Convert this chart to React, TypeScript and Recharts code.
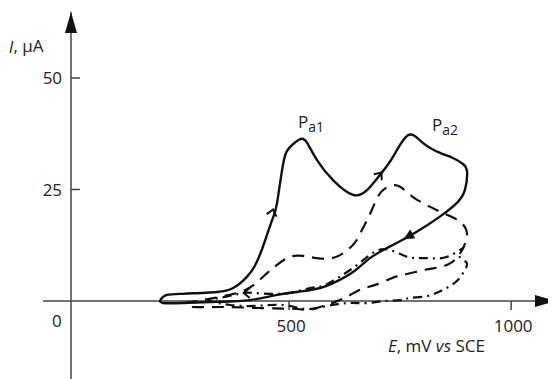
import React from "react";
import { LineChart, Line, XAxis, YAxis, ReferenceLine, ReferenceDot } from "recharts";

// potential E (mV vs SCE) and current I (µA)
const solidE = [210, 225, 261, 300, 338, 374, 405, 423, 441, 462, 473, 487, 502, 525, 541, 563, 599, 644, 676, 705, 734, 768, 802, 840, 870, 893, 901, 896, 878, 845, 811, 766, 721, 682, 644, 599, 570, 532, 473, 412, 338, 261, 216, 210];
const solidI = [0.2, 1.35, 1.6, 1.8, 2.0, 2.9, 5.4, 7.9, 12.1, 18.2, 22.0, 30.9, 34.5, 36.3, 35.4, 31.6, 27.1, 23.8, 24.9, 28.3, 32.3, 37.2, 35.4, 33.2, 32.0, 30.6, 28.7, 24.9, 22.0, 19.3, 17.0, 14.3, 11.9, 9.6, 6.5, 4.0, 2.9, 2.2, 1.35, 0.2, -0.2, -0.45, -0.45, 0.2];

const dashE = [266, 333, 390, 423, 451, 473, 502, 532, 563, 597, 626, 649, 664, 678, 691, 707, 728, 750, 779, 818, 851, 883, 899, 899, 887, 867, 840, 806, 768, 739, 694, 664, 633, 604, 554, 518, 439, 349, 282, 266];
const dashI = [-0.45, 0.7, 2.0, 3.8, 6.3, 8.1, 9.9, 10.1, 9.6, 9.6, 11.0, 13.2, 15.9, 18.6, 21.5, 24.4, 25.8, 25.6, 23.3, 21.1, 19.5, 17.9, 15.9, 13.7, 11.0, 8.7, 7.6, 7.0, 6.1, 5.4, 3.6, 2.7, 1.1, -0.2, -1.8, -1.8, -1.6, -1.35, -1.35, -0.45];

const dotE = [311, 367, 428, 487, 536, 574, 610, 642, 678, 716, 750, 773, 811, 847, 878, 896, 899, 883, 892, 856, 818, 788, 761, 728, 701, 676, 644, 610, 577, 547, 502, 457, 419, 396, 356, 311];
const dotI = [0.2, -0.9, -1.1, -0.9, -1.8, -1.35, -0.7, -0.45, -0.45, 0, 0.2, 0.7, 1.1, 2.5, 4.5, 7.0, 8.7, 10.3, 11.9, 9.9, 9.6, 9.6, 10.1, 11.4, 11.4, 9.9, 7.4, 5.2, 3.4, 2.9, 1.8, 1.6, 1.8, 1.8, 0.9, 0.2];

const yTicks = [25, 50];
const xTicks = [500, 1000];

const zip = (e: number[], i: number[]) => e.map((v, k) => ({ e: v, i: i[k] }));
const solid = zip(solidE, solidI);
const dashed = zip(dashE, dashI);
const dashDot = zip(dotE, dotI);

const X_MIN = -54;
const X_MAX = 1092;
const Y_MIN = -17.5;
const Y_MAX = 64.8;
const AXIS_X = 9;

const font = "'Open Sans', 'Liberation Sans', sans-serif";
const ink = "#222";

const textShape = (content: React.ReactNode, anchor: string, dx = 0, dy = 0) => (p: any) => (
  <text
    x={p.cx + dx}
    y={p.cy + dy}
    textAnchor={anchor as any}
    dominantBaseline="central"
    fontFamily={font}
    fontSize={17}
    fill={ink}
  >
    {content}
  </text>
);

const arrowShape = (angle: number, filled: boolean) => (p: any) => (
  <g transform={`translate(${p.cx},${p.cy}) rotate(${angle})`}>
    {filled ? (
      <path d="M 0 0 L -11 -5 L -11 5 Z" fill="#111" />
    ) : (
      <path d="M -6 -5 L 0 0 L -6 5" fill="none" stroke="#111" strokeWidth={2} />
    )}
  </g>
);

const headShape = (dir: "up" | "right") => (p: any) =>
  dir === "up" ? (
    <path d={`M ${p.cx} ${p.cy} L ${p.cx - 6} ${p.cy + 21} L ${p.cx + 6} ${p.cy + 21} Z`} fill="#111" />
  ) : (
    <path d={`M ${p.cx} ${p.cy} L ${p.cx - 21} ${p.cy - 6} L ${p.cx - 21} ${p.cy + 6} Z`} fill="#111" />
  );

export default function App() {
  return (
    <div style={{ width: 548, height: 371 }}>
      <LineChart width={548} height={371} margin={{ top: 4, right: 4, left: 35, bottom: 0 }}>
        <XAxis type="number" dataKey="e" domain={[X_MIN, X_MAX]} allowDataOverflow hide />
        <YAxis type="number" dataKey="i" domain={[Y_MIN, Y_MAX]} allowDataOverflow hide width={0} />

        <ReferenceLine y={0} stroke="#444" strokeWidth={1.5} />
        <ReferenceLine x={AXIS_X} stroke="#444" strokeWidth={1.5} />
        {yTicks.map((t) => (
          <ReferenceLine key={"yt" + t} segment={[{ x: AXIS_X, y: t }, { x: 29, y: t }]} stroke="#444" strokeWidth={1.5} />
        ))}
        {xTicks.map((t) => (
          <ReferenceLine key={"xt" + t} segment={[{ x: t, y: 0 }, { x: t, y: -2 }]} stroke="#444" strokeWidth={1.5} />
        ))}
        <ReferenceDot x={AXIS_X} y={Y_MAX} r={0} ifOverflow="visible" shape={headShape("up")} />
        <ReferenceDot x={1101} y={0} r={0} ifOverflow="visible" shape={headShape("right")} />

        <Line data={solid} dataKey="i" type="natural" stroke="#111" strokeWidth={2.4} dot={false} isAnimationActive={false} />
        <Line data={dashed} dataKey="i" type="natural" stroke="#111" strokeWidth={2.2} strokeDasharray="12 8" dot={false} isAnimationActive={false} />
        <Line data={dashDot} dataKey="i" type="natural" stroke="#111" strokeWidth={2.2} strokeDasharray="9 5 2 5" dot={false} isAnimationActive={false} />

        <ReferenceDot x={464} y={20.5} r={0} ifOverflow="visible" shape={arrowShape(-76, false)} />
        <ReferenceDot x={708} y={28.8} r={0} ifOverflow="visible" shape={arrowShape(-52, false)} />
        <ReferenceDot x={757} y={13.8} r={0} ifOverflow="visible" shape={arrowShape(150, true)} />
        <ReferenceDot x={398} y={1.8} r={0} ifOverflow="visible" shape={arrowShape(180, false)} />

        {yTicks.map((t) => (
          <ReferenceDot key={"yl" + t} x={-11} y={t} r={0} ifOverflow="visible" shape={textShape(String(t), "end")} />
        ))}
        <ReferenceDot x={-22.5} y={-4.3} r={0} ifOverflow="visible" shape={textShape("0", "middle")} />
        {xTicks.map((t) => (
          <ReferenceDot key={"xl" + t} x={t} y={-5.6} r={0} ifOverflow="visible" shape={textShape(String(t), "middle", 2)} />
        ))}
        <ReferenceDot
          x={941}
          y={-9.9}
          r={0}
          ifOverflow="visible"
          shape={textShape(
            <>
              <tspan fontStyle="italic">E</tspan>, mV <tspan fontStyle="italic">vs</tspan> SCE
            </>,
            "end"
          )}
        />
        <ReferenceDot
          x={-131}
          y={57.2}
          r={0}
          ifOverflow="visible"
          shape={textShape(
            <>
              <tspan fontStyle="italic">I</tspan>, µA
            </>,
            "start"
          )}
        />
        <ReferenceDot
          x={520}
          y={40.3}
          r={0}
          ifOverflow="visible"
          shape={textShape(
            <>
              P<tspan fontSize={14} dy={5}>a1</tspan>
            </>,
            "start"
          )}
        />
        <ReferenceDot
          x={822}
          y={39.6}
          r={0}
          ifOverflow="visible"
          shape={textShape(
            <>
              P<tspan fontSize={14} dy={5}>a2</tspan>
            </>,
            "start"
          )}
        />
      </LineChart>
    </div>
  );
}
